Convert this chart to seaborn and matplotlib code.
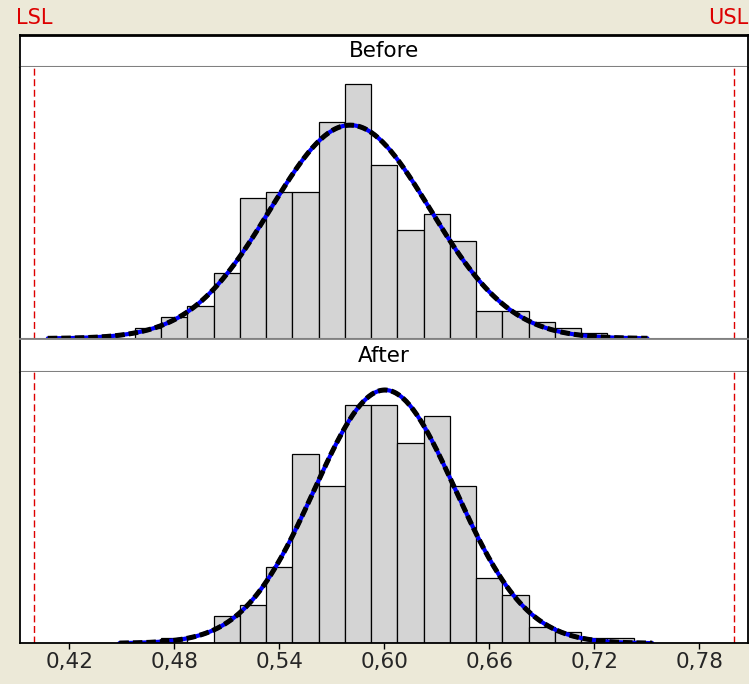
import matplotlib
matplotlib.use("Agg")
import matplotlib.pyplot as plt
import matplotlib.transforms as mtransforms
import seaborn as sns
import numpy as np

# ---- data ----
BIN_W = 0.015
before_centers = [0.465, 0.48, 0.495, 0.51, 0.525, 0.54, 0.555, 0.57, 0.585,
                  0.60, 0.615, 0.63, 0.645, 0.66, 0.675, 0.69, 0.705, 0.72]
before_counts = [2, 4, 6, 12, 26, 27, 27, 40, 47, 32, 20, 23, 18, 5, 5, 3, 2, 1]

after_centers = [0.48, 0.495, 0.51, 0.525, 0.54, 0.555, 0.57, 0.585, 0.60,
                 0.615, 0.63, 0.645, 0.66, 0.675, 0.69, 0.705, 0.72, 0.735]
after_counts = [1, 0, 5, 7, 14, 35, 29, 44, 44, 37, 42, 29, 12, 9, 3, 2, 1, 1]

# fitted normal curves: mean, stdev, drawn range
before_fit = dict(mean=0.5805, sd=0.0456, lo=0.4077, hi=0.7503)
after_fit = dict(mean=0.6003, sd=0.0403, lo=0.4486, hi=0.7531)

LSL, USL = 0.40, 0.80
xticks = [0.42, 0.48, 0.54, 0.60, 0.66, 0.72, 0.78]
xtick_labels = ["0,42", "0,48", "0,54", "0,60", "0,66", "0,72", "0,78"]
panel_names = ["Before", "After"]

BG = "#ECE9D8"
BAR = "#D4D4D4"
RED = "#DD0000"

sns.set_style("white")
plt.rcParams["font.family"] = ["DejaVu Sans"]

W, H = 749, 684
fig = plt.figure(figsize=(W / 100, H / 100), dpi=100, facecolor=BG)


def px_axes(x0, y0, x1, y1):
    # pixel box (top-left origin) -> figure axes
    return fig.add_axes([x0 / W, 1 - y1 / H, (x1 - x0) / W, (y1 - y0) / H])


XLIM = (0.3918, 0.8078)
YMAX = 50.1

strips = [(35, 67), (339, 372)]
panels = [(67, 338.5), (372, 643.3)]
data = [(before_centers, before_counts, before_fit),
        (after_centers, after_counts, after_fit)]

for i, name in enumerate(panel_names):
    centers, counts, fit = data[i]

    # strip header
    sax = px_axes(20, strips[i][0], 748, strips[i][1])
    sax.set_facecolor("white")
    sax.set_xticks([])
    sax.set_yticks([])
    for side in ["left", "right"]:
        sax.spines[side].set_color("black")
        sax.spines[side].set_linewidth(1.3)
    sax.spines["top"].set_color("black" if i == 0 else "#808080")
    sax.spines["top"].set_linewidth(2 if i == 0 else 1.3)
    sax.spines["bottom"].set_color("#808080")
    sax.spines["bottom"].set_linewidth(1.5)
    sax.text(0.5, 0.5, name, ha="center", va="center", fontsize=15.5,
             color="black", transform=sax.transAxes)

    # histogram panel
    ax = px_axes(20, panels[i][0], 748, panels[i][1])
    ax.set_facecolor("white")
    first_edge = centers[0] - BIN_W / 2
    edges = np.round(first_edge + BIN_W * np.arange(len(centers) + 1), 5).tolist()
    sns.histplot(x=centers, weights=counts, bins=edges, ax=ax, color=BAR,
                 edgecolor="black", linewidth=0.9, alpha=1)

    # fitted normal curves (blue solid under black dashed)
    xs = np.linspace(fit["lo"], fit["hi"], 300)
    n = sum(counts)
    ys = n * BIN_W / (fit["sd"] * np.sqrt(2 * np.pi)) * np.exp(-0.5 * ((xs - fit["mean"]) / fit["sd"]) ** 2)
    sns.lineplot(x=xs, y=ys, ax=ax, color="#0000FF", linewidth=3.0)
    sns.lineplot(x=xs, y=ys, ax=ax, color="black", linewidth=3.6,
                 linestyle=(0, (1.9, 0.8)))

    # spec limits
    for lim in [LSL, USL]:
        ax.axvline(lim, color=RED, linewidth=1.0, linestyle=(0, (5, 2.6)))

    ax.set_xlim(*XLIM)
    ax.set_ylim(0, YMAX)
    ax.set_yticks([])
    ax.set_ylabel("")
    ax.set_xlabel("")
    for side in ["left", "right"]:
        ax.spines[side].set_color("black")
        ax.spines[side].set_linewidth(1.3)
    ax.spines["top"].set_visible(False)
    if i == 0:
        ax.set_xticks([])
        ax.spines["bottom"].set_color("#808080")
        ax.spines["bottom"].set_linewidth(1.5)
        # LSL / USL labels above top panel
        trans = mtransforms.blended_transform_factory(ax.transData, fig.transFigure)
        ax.text(LSL, 1 - 18 / H, "LSL", transform=trans, ha="center", va="center",
                fontsize=15, color=RED, clip_on=False)
        fig.text(748.5 / W, 1 - 18 / H, "USL", ha="right", va="center",
                 fontsize=15, color=RED)
    else:
        ax.spines["bottom"].set_color("black")
        ax.spines["bottom"].set_linewidth(1.3)
        ax.set_xticks(xticks)
        ax.set_xticklabels(xtick_labels)
        ax.tick_params(axis="x", direction="out", length=4.5, width=1.0,
                       color="black", labelsize=15.5, pad=2, bottom=True)

fig.savefig("out.png", dpi=100, facecolor=BG)
